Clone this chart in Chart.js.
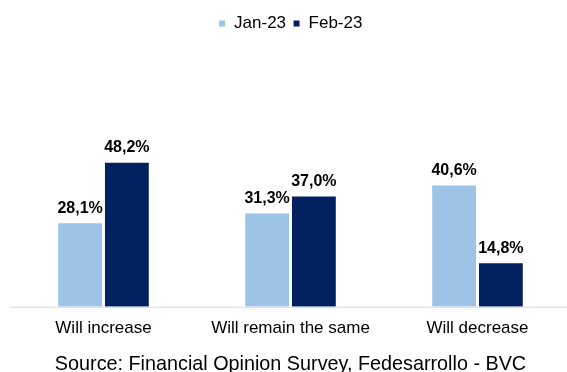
<!DOCTYPE html>
<html>
<head>
<meta charset="utf-8">
<script src="https://cdn.jsdelivr.net/npm/chart.js@4"></script>
<style>
  html, body { margin: 0; padding: 0; background: #fff; overflow: hidden; }
  #wrap { width: 571px; height: 372px; }
</style>
</head>
<body>
<div id="wrap"><canvas id="expChart"></canvas></div>
<script>
// Categorías y valores (%)
const categories = ['Will increase', 'Will remain the same', 'Will decrease'];
const jan23 = [28.1, 31.3, 40.6];
const feb23 = [48.2, 37.0, 14.8];
const seriesNames = ['Jan-23', 'Feb-23'];
const sourceText = 'Source: Financial Opinion Survey, Fedesarrollo - BVC';

Chart.defaults.font.family = '"Liberation Sans", Arial, sans-serif';
Chart.defaults.color = '#000';

// Etiquetas de valor encima de cada barra, con coma decimal
const valueLabels = {
    id: 'valueLabels',
    afterDatasetsDraw(chart) {
        const ctx = chart.ctx;
        ctx.save();
        ctx.font = 'bold 16px "Liberation Sans", Arial, sans-serif';
        ctx.fillStyle = '#000';
        ctx.textAlign = 'center';
        ctx.textBaseline = 'bottom';
        chart.data.datasets.forEach((ds, i) => {
            chart.getDatasetMeta(i).data.forEach((bar, j) => {
                const txt = ds.data[j].toFixed(1).replace('.', ',') + '%';
                ctx.fillText(txt, bar.x, bar.y - 6);
            });
        });
        ctx.restore();
    }
};

// Línea base del eje X
const baseLine = {
    id: 'baseLine',
    beforeDatasetsDraw(chart) {
        const { ctx, chartArea } = chart;
        ctx.save();
        ctx.strokeStyle = '#D9D9D9';
        ctx.lineWidth = 1;
        ctx.beginPath();
        ctx.moveTo(chartArea.left, chartArea.bottom + 0.5);
        ctx.lineTo(chartArea.right, chartArea.bottom + 0.5);
        ctx.stroke();
        ctx.restore();
    }
};

new Chart(document.getElementById('expChart'), {
    type: 'bar',
    data: {
        labels: categories,
        datasets: [{
            label: seriesNames[0],
            data: jan23,
            backgroundColor: '#9DC3E6',
            borderColor: '#fff',
            borderWidth: 1
        }, {
            label: seriesNames[1],
            data: feb23,
            backgroundColor: '#002060',
            borderColor: '#fff',
            borderWidth: 1
        }]
    },
    options: {
        responsive: true,
        maintainAspectRatio: false,
        animation: false,
        layout: { padding: { top: 8, left: 10, right: 0, bottom: 0 } },
        datasets: {
            bar: { categoryPercentage: 0.5, barPercentage: 0.98 }
        },
        scales: {
            x: {
                grid: { display: false, drawTicks: false },
                border: { display: false },
                ticks: { padding: 11, font: { size: 17 }, color: '#000' }
            },
            y: {
                display: false,
                min: 0,
                max: 88
            }
        },
        plugins: {
            legend: {
                position: 'top',
                labels: {
                    boxWidth: 7,
                    boxHeight: 7,
                    padding: 7,
                    font: { size: 17 },
                    color: '#000'
                }
            },
            title: {
                display: true,
                position: 'bottom',
                text: sourceText,
                font: { size: 19.8, weight: 'normal', lineHeight: 0.8 },
                color: '#000',
                padding: { top: 7, bottom: 0 }
            },
            tooltip: { enabled: false }
        }
    },
    plugins: [valueLabels, baseLine]
});
</script>
</body>
</html>
